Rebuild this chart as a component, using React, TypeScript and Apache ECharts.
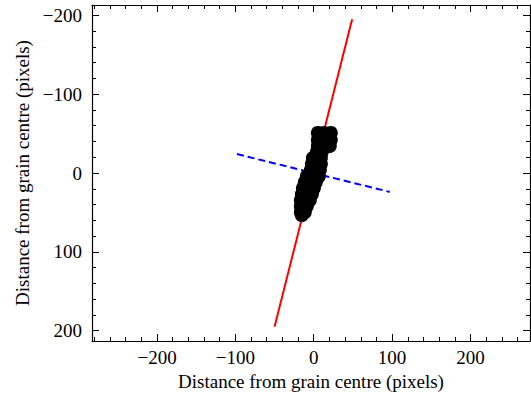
import React, { useEffect, useRef } from "react";
import * as echarts from "echarts";

const majorTicks = [-200, -100, 0, 100, 200];
const xMinorTicks = [-280, -260, -240, -220, -180, -160, -140, -120, -80, -60, -40, -20, 20, 40, 60, 80, 120, 140, 160, 180, 220, 240, 260];
const yMinorTicks = [-180, -160, -140, -120, -80, -60, -40, -20, 20, 40, 60, 80, 120, 140, 160, 180];

// Red solid fit line (x, y)
const redLine: [number, number][] = [[-50, 195], [49, -195]];
// Blue dashed perpendicular line
const blueLine: [number, number][] = [[-98, -24], [97, 24]];
// Black grain pixel points (x, y)
const grainX = [5.2, 12.9, 21.8, 5.2, 12.9, 21.8, 5.2, 12.9, 20.5, 4.0, 10.3, -1.1, 9.1, -2.4, 9.1, -3.7, 7.8, -8.8, 6.5, -11.4, 2.7, -13.9, 0.1, -15.2, -2.4, -16.5, -5.0, -16.5, -8.8, -16.5, -11.4, -15.2];
const grainY = [-50.8, -50.8, -50.8, -41.9, -41.9, -41.9, -34.2, -34.2, -34.2, -26.6, -26.6, -19.0, -19.0, -11.3, -11.3, -3.7, -3.7, 4.0, 4.0, 11.6, 11.6, 19.2, 19.2, 26.8, 26.8, 34.5, 34.5, 42.1, 42.1, 49.7, 49.7, 53.6];

const axisTitle = "Distance from grain centre (pixels)";
const FONT = "Liberation Serif";

const fmt = (v: number) => (v < 0 ? "\u2212" + Math.abs(v) : String(v));

export default function App() {
  const ref = useRef<HTMLDivElement>(null);
  useEffect(() => {
    if (!ref.current) return;
    const chart = echarts.init(ref.current, undefined, { renderer: "svg" });
    const xMin = -283, xMax = 276, yMin = -213, yMax = 213;
    const lineStyle = { color: "#000", width: 1.2 };
    const mkX = (pos: string, minor: boolean, labels: boolean) => ({
      type: "value",
      position: pos,
      min: xMin,
      max: xMax,
      splitLine: { show: false },
      axisLine: { show: !minor, onZero: false, lineStyle },
      axisTick: {
        show: true,
        inside: true,
        length: minor ? 4 : 7,
        customValues: minor ? xMinorTicks : majorTicks,
        lineStyle: { color: "#000", width: 1 },
      },
      axisLabel: {
        show: labels,
        customValues: majorTicks,
        formatter: fmt,
        color: "#000",
        fontFamily: FONT,
        fontSize: 19,
        margin: 7,
      },
      ...(labels
        ? {
            name: axisTitle,
            nameLocation: "middle",
            nameGap: 28,
            nameTextStyle: { color: "#000", fontFamily: FONT, fontSize: 19 },
          }
        : {}),
    });
    const mkY = (pos: string, minor: boolean, labels: boolean) => ({
      type: "value",
      position: pos,
      inverse: true,
      min: yMin,
      max: yMax,
      splitLine: { show: false },
      axisLine: { show: !minor, onZero: false, lineStyle },
      axisTick: {
        show: true,
        inside: true,
        length: minor ? 4 : 7,
        customValues: minor ? yMinorTicks : majorTicks,
        lineStyle: { color: "#000", width: 1 },
      },
      axisLabel: {
        show: labels,
        customValues: majorTicks,
        formatter: fmt,
        color: "#000",
        fontFamily: FONT,
        fontSize: 19,
        margin: 10,
      },
      ...(labels
        ? {
            name: axisTitle,
            nameLocation: "middle",
            nameGap: 58,
            nameTextStyle: { color: "#000", fontFamily: FONT, fontSize: 19 },
          }
        : {}),
    });
    chart.setOption({
      animation: false,
      backgroundColor: "#fff",
      grid: { left: 92, top: 5, width: 438, height: 336, containLabel: false },
      xAxis: [mkX("bottom", false, true), mkX("bottom", true, false), mkX("top", false, false), mkX("top", true, false)],
      yAxis: [mkY("left", false, true), mkY("left", true, false), mkY("right", false, false), mkY("right", true, false)],
      series: [
        {
          type: "line",
          data: redLine,
          xAxisIndex: 0,
          yAxisIndex: 0,
          showSymbol: false,
          lineStyle: { color: "#ff0000", width: 2 },
          z: 2,
        },
        {
          type: "line",
          data: blueLine,
          xAxisIndex: 0,
          yAxisIndex: 0,
          showSymbol: false,
          lineStyle: { color: "#0000ff", width: 2, type: [7, 4] },
          z: 2,
        },
        {
          type: "scatter",
          data: grainX.map((x, i) => [x, grainY[i]]),
          xAxisIndex: 0,
          yAxisIndex: 0,
          symbol: "circle",
          symbolSize: 14,
          itemStyle: { color: "#000", opacity: 1 },
          emphasis: { disabled: true },
          z: 3,
        },
      ],
    });
    return () => chart.dispose();
  }, []);
  return <div ref={ref} style={{ width: 531, height: 398, position: "absolute", left: 0, top: 0 }} />;
}
